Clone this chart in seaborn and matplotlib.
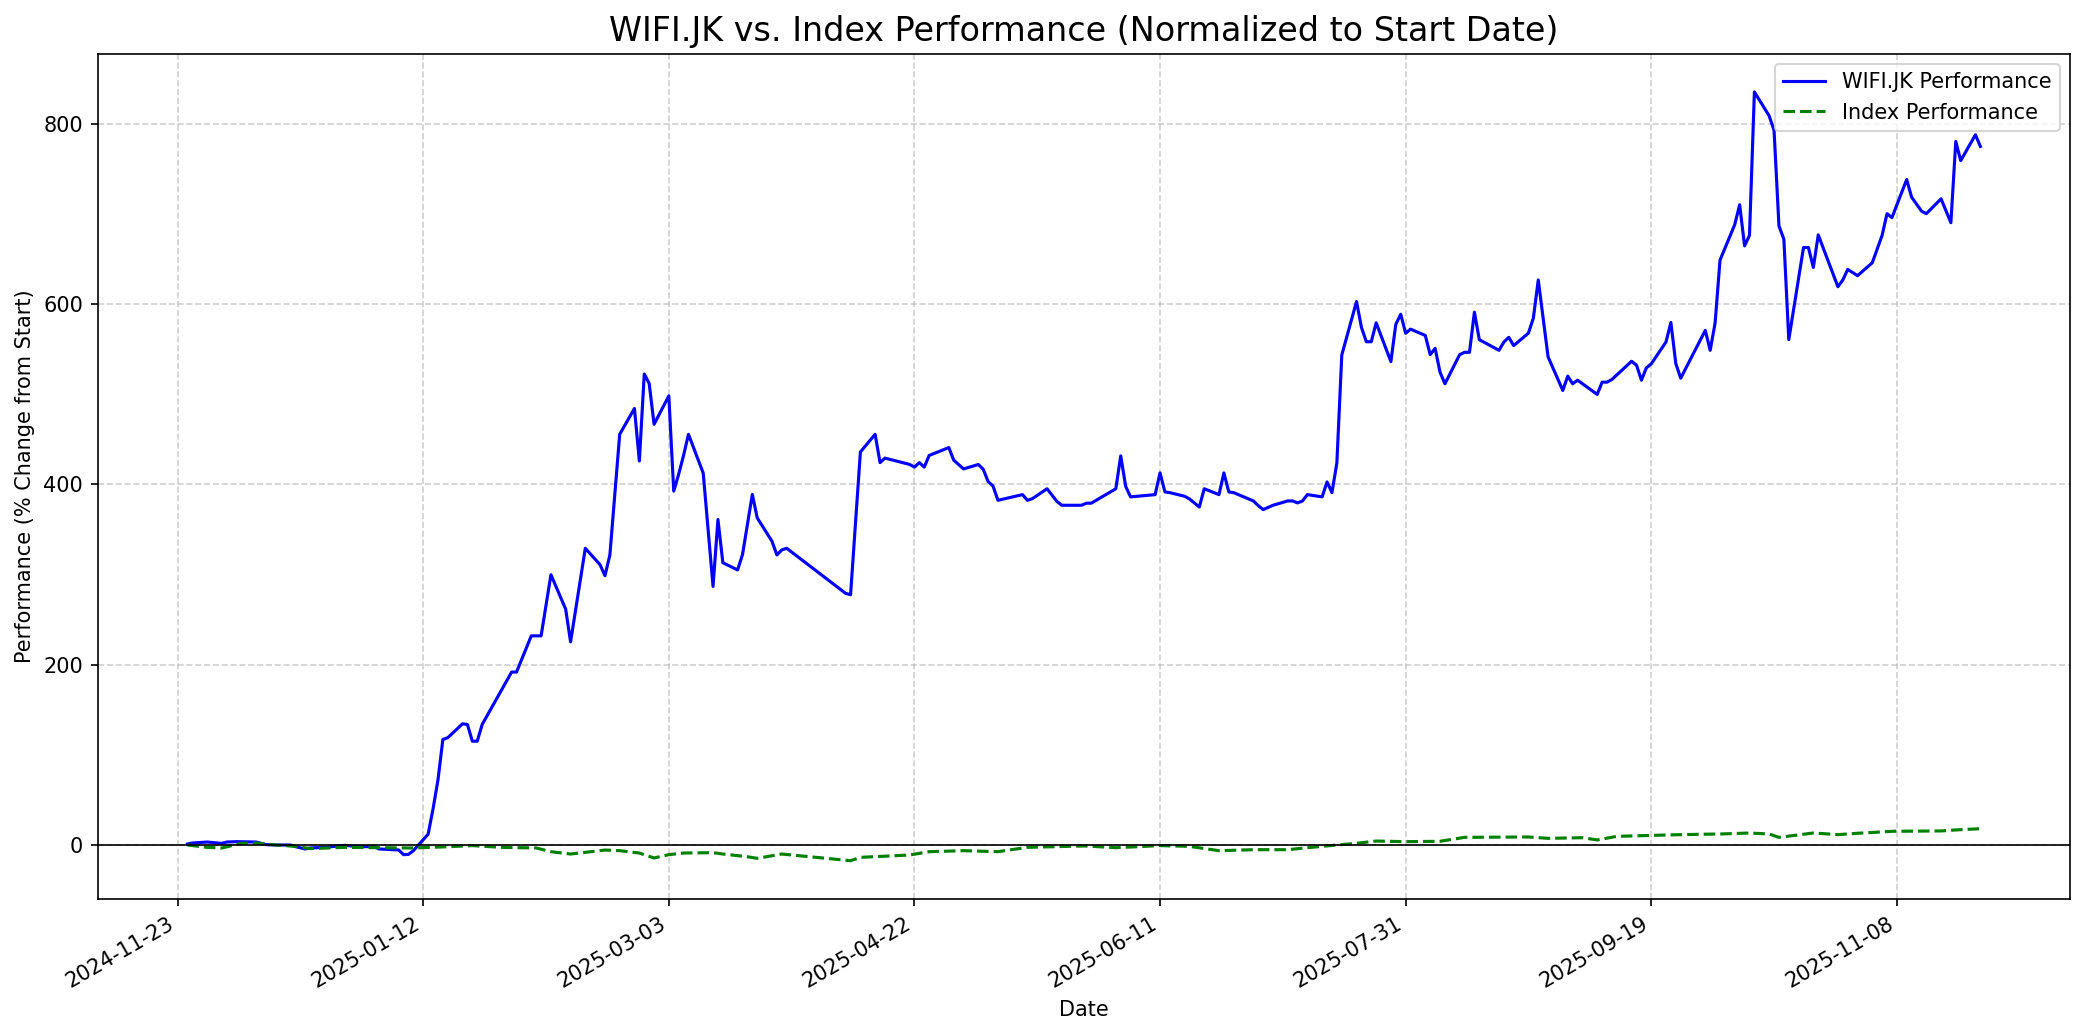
import pandas as pd
import numpy as np
import seaborn as sns
import matplotlib.pyplot as plt
import matplotlib.dates as mdates

# WIFI.JK normalized performance (% change from start)
wifi_dates = ["2024-11-25", "2024-11-26", "2024-11-29", "2024-12-02", "2024-12-03", "2024-12-05",
              "2024-12-09", "2024-12-11", "2024-12-13", "2024-12-16", "2024-12-17", "2024-12-19",
              "2024-12-20", "2024-12-23", "2024-12-27", "2024-12-30", "2025-01-02", "2025-01-03",
              "2025-01-07", "2025-01-08", "2025-01-09", "2025-01-10", "2025-01-13", "2025-01-14",
              "2025-01-15", "2025-01-16", "2025-01-17", "2025-01-20", "2025-01-21", "2025-01-22",
              "2025-01-23", "2025-01-24", "2025-01-30", "2025-01-31", "2025-02-03", "2025-02-05",
              "2025-02-07", "2025-02-10", "2025-02-11", "2025-02-14", "2025-02-17", "2025-02-18",
              "2025-02-19", "2025-02-21", "2025-02-24", "2025-02-25", "2025-02-26", "2025-02-27",
              "2025-02-28", "2025-03-03", "2025-03-04", "2025-03-05", "2025-03-06", "2025-03-07",
              "2025-03-10", "2025-03-12", "2025-03-13", "2025-03-14", "2025-03-17", "2025-03-18",
              "2025-03-20", "2025-03-21", "2025-03-24", "2025-03-25", "2025-03-26", "2025-03-27",
              "2025-04-08", "2025-04-09", "2025-04-11", "2025-04-14", "2025-04-15", "2025-04-16",
              "2025-04-21", "2025-04-22", "2025-04-23", "2025-04-24", "2025-04-25", "2025-04-29",
              "2025-04-30", "2025-05-02", "2025-05-05", "2025-05-06", "2025-05-07", "2025-05-08",
              "2025-05-09", "2025-05-14", "2025-05-15", "2025-05-16", "2025-05-19", "2025-05-21",
              "2025-05-22", "2025-05-26", "2025-05-27", "2025-05-28", "2025-06-02", "2025-06-03",
              "2025-06-04", "2025-06-05", "2025-06-10", "2025-06-11", "2025-06-12", "2025-06-13",
              "2025-06-16", "2025-06-17", "2025-06-19", "2025-06-20", "2025-06-23", "2025-06-24",
              "2025-06-25", "2025-06-26", "2025-06-30", "2025-07-01", "2025-07-02", "2025-07-04",
              "2025-07-07", "2025-07-08", "2025-07-09", "2025-07-10", "2025-07-11", "2025-07-14",
              "2025-07-15", "2025-07-16", "2025-07-17", "2025-07-18", "2025-07-21", "2025-07-22",
              "2025-07-23", "2025-07-24", "2025-07-25", "2025-07-28", "2025-07-29", "2025-07-30",
              "2025-07-31", "2025-08-01", "2025-08-04", "2025-08-05", "2025-08-06", "2025-08-07",
              "2025-08-08", "2025-08-11", "2025-08-12", "2025-08-13", "2025-08-14", "2025-08-15",
              "2025-08-19", "2025-08-20", "2025-08-21", "2025-08-22", "2025-08-25", "2025-08-26",
              "2025-08-27", "2025-08-29", "2025-09-01", "2025-09-02", "2025-09-03", "2025-09-04",
              "2025-09-08", "2025-09-09", "2025-09-10", "2025-09-11", "2025-09-15", "2025-09-16",
              "2025-09-17", "2025-09-18", "2025-09-19", "2025-09-22", "2025-09-23", "2025-09-24",
              "2025-09-25", "2025-09-30", "2025-10-01", "2025-10-02", "2025-10-03", "2025-10-06",
              "2025-10-07", "2025-10-08", "2025-10-09", "2025-10-10", "2025-10-13", "2025-10-14",
              "2025-10-15", "2025-10-16", "2025-10-17", "2025-10-20", "2025-10-21", "2025-10-22",
              "2025-10-23", "2025-10-27", "2025-10-28", "2025-10-29", "2025-10-31", "2025-11-03",
              "2025-11-05", "2025-11-06", "2025-11-07", "2025-11-10", "2025-11-11", "2025-11-13",
              "2025-11-14", "2025-11-17", "2025-11-19", "2025-11-20", "2025-11-21", "2025-11-24",
              "2025-11-25"]
wifi_perf = [1.1, 2.2, 3.3, 1.8, 3.3, 3.7,
             3.3, 0.4, 0.0, 0.0, -1.8, -4.4,
             -3.3, -2.6, -0.4, -1.8, -1.8, -4.4,
             -5.5, -10.7, -10.4, -6.3, 12.0, 40.0,
             72.0, 117.0, 119.0, 134.4, 133.6, 115.1,
             115.1, 133.6, 191.8, 191.8, 231.9, 231.9,
             299.7, 261.5, 225.2, 329.0, 310.8, 298.6,
             321.6, 455.4, 484.0, 425.8, 522.2, 511.8,
             466.5, 498.0, 392.4, 411.0, 432.0, 455.4,
             412.4, 286.7, 360.9, 313.0, 305.0, 322.0,
             388.7, 362.7, 336.8, 321.6, 327.2, 329.0,
             279.0, 277.5, 435.8, 455.4, 424.0, 429.0,
             422.0, 419.0, 424.0, 419.0, 431.9, 440.7,
             426.7, 417.0, 421.9, 416.7, 403.0, 398.0,
             382.2, 388.5, 382.2, 384.0, 395.0, 381.0,
             376.7, 376.7, 379.0, 379.0, 395.0, 431.5,
             397.8, 386.0, 388.5, 412.6, 391.5, 390.7,
             386.7, 383.7, 374.8, 395.0, 388.5, 412.6,
             391.5, 390.7, 381.5, 376.3, 371.9, 376.7,
             381.5, 381.5, 379.3, 381.5, 388.5, 386.0,
             402.6, 390.7, 423.7, 543.3, 602.6, 574.0,
             558.0, 558.0, 579.0, 536.0, 577.4, 588.5,
             567.4, 572.0, 565.0, 543.7, 550.7, 524.3,
             511.4, 543.7, 546.3, 546.3, 590.8, 560.3,
             548.5, 557.7, 562.9, 553.7, 567.6, 584.2,
             626.5, 541.2, 504.0, 519.9, 511.4, 515.4,
             499.6, 513.2, 513.2, 516.2, 536.4, 532.0,
             515.4, 529.0, 533.5, 557.7, 579.4, 533.8,
             517.6, 570.6, 548.5, 578.7, 648.5, 687.9,
             710.0, 664.3, 676.0, 835.0, 808.5, 792.6,
             686.4, 671.7, 560.3, 662.5, 662.5, 640.4,
             676.5, 619.0, 626.5, 638.2, 631.3, 645.6,
             676.0, 700.0, 695.6, 737.9, 718.4, 703.0,
             700.0, 716.5, 690.0, 780.1, 758.8, 787.5,
             774.6]

# index normalized performance
index_dates = ["2024-11-25", "2024-11-29", "2024-12-02", "2024-12-06", "2024-12-09", "2024-12-13",
               "2024-12-17", "2024-12-20", "2024-12-27", "2025-01-03", "2025-01-10", "2025-01-17",
               "2025-01-22", "2025-01-28", "2025-02-04", "2025-02-07", "2025-02-11", "2025-02-18",
               "2025-02-21", "2025-02-25", "2025-02-28", "2025-03-03", "2025-03-06", "2025-03-12",
               "2025-03-14", "2025-03-19", "2025-03-21", "2025-03-26", "2025-04-02", "2025-04-09",
               "2025-04-11", "2025-04-21", "2025-04-25", "2025-05-02", "2025-05-09", "2025-05-15",
               "2025-05-23", "2025-05-27", "2025-06-02", "2025-06-11", "2025-06-17", "2025-06-23",
               "2025-06-30", "2025-07-07", "2025-07-11", "2025-07-17", "2025-07-21", "2025-07-25",
               "2025-07-31", "2025-08-07", "2025-08-12", "2025-08-25", "2025-08-29", "2025-09-05",
               "2025-09-08", "2025-09-12", "2025-09-22", "2025-09-29", "2025-10-03", "2025-10-09",
               "2025-10-13", "2025-10-15", "2025-10-22", "2025-10-27", "2025-10-31", "2025-11-07",
               "2025-11-17", "2025-11-20", "2025-11-25"]
index_perf = [0.0, -2.6, -3.3, 1.9, 2.2, 0.0,
              -1.5, -4.0, -2.6, -3.0, -3.3, -1.9,
              -0.7, -2.6, -3.3, -7.4, -10.0, -5.6,
              -6.3, -8.9, -14.4, -10.7, -8.9, -8.5,
              -10.0, -13.0, -14.8, -10.0, -13.7, -17.4,
              -13.7, -11.1, -7.4, -6.3, -7.4, -2.6,
              -1.5, -1.1, -3.0, -0.7, -1.5, -6.3,
              -5.2, -5.2, -3.0, 0.0, 1.9, 4.4,
              3.7, 4.1, 8.5, 8.9, 7.4, 8.1,
              5.6, 9.6, 11.1, 11.9, 12.2, 13.3,
              12.2, 8.5, 13.3, 11.5, 13.0, 15.2,
              15.6, 16.7, 18.1]

wifi_df = pd.DataFrame({"Date": pd.to_datetime(wifi_dates), "Perf": wifi_perf})
index_df = pd.DataFrame({"Date": pd.to_datetime(index_dates), "Perf": index_perf})

fig, ax = plt.subplots(figsize=(14, 7), dpi=150)
sns.lineplot(data=wifi_df, x="Date", y="Perf", color="blue", linewidth=1.5,
             label="WIFI.JK Performance", ax=ax)
sns.lineplot(data=index_df, x="Date", y="Perf", color="green", linewidth=1.5,
             linestyle="--", label="Index Performance", ax=ax)
ax.axhline(0, color="black", linewidth=0.8)

# ticks every 50 days like the original
ticks = pd.date_range("2024-11-23", periods=8, freq="50D")
ax.set_xticks(ticks)
ax.xaxis.set_major_formatter(mdates.DateFormatter("%Y-%m-%d"))

ax.set_title("WIFI.JK vs. Index Performance (Normalized to Start Date)", fontsize=16)
ax.set_xlabel("Date")
ax.set_ylabel("Performance (% Change from Start)")
ax.grid(True, linestyle="--", alpha=0.6)
ax.legend(loc="upper right")
fig.autofmt_xdate()
plt.tight_layout()
plt.savefig("out.png", dpi=150, bbox_inches="tight")
